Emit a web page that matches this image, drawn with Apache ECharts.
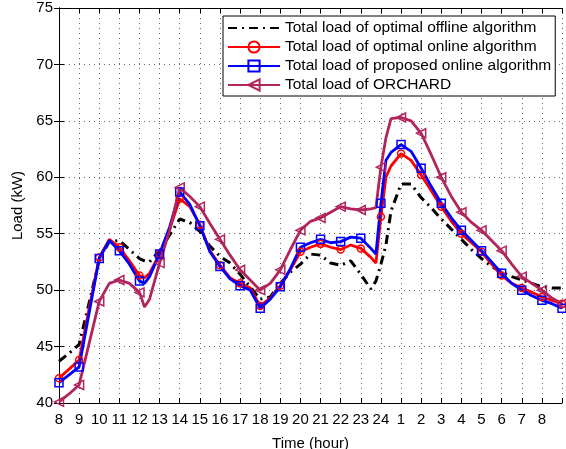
<!DOCTYPE html>
<html>
<head>
<meta charset="utf-8">
<script src="https://cdn.jsdelivr.net/npm/echarts@6/dist/echarts.min.js"></script>
<style>
  html, body { margin: 0; padding: 0; background: #fff; }
  #main { width: 566px; height: 449px; }
</style>
</head>
<body>
<div id="main"></div>
<script>
// hours after 8:00
var times = [0, 0.5, 1, 1.5, 2, 2.5, 3, 3.5, 4, 4.25, 4.5, 5, 5.5, 6, 6.5, 7, 7.5, 8, 8.5, 9, 9.5, 10, 10.5, 11, 11.5,
  12, 12.5, 13, 13.5, 14, 14.5, 15, 15.5, 15.75, 16, 16.25, 16.5, 17, 17.5, 18, 18.5, 19, 19.5, 20, 20.5, 21, 21.5,
  22, 22.5, 23, 23.5, 24, 24.5, 25]
var hourLabels = ['8', '9', '10', '11', '12', '13', '14', '15', '16', '17', '18', '19', '20', '21', '22', '23', '24',
  '1', '2', '3', '4', '5', '6', '7', '8']

var offlineLoad = [43.7, 44.4, 45.2, 48.9, 52.7, 54.3, 54.4, 53.6, 52.8, 52.6, 52.5, 53.5, 54.9, 56.3, 56.0, 55.2, 53.9,
  53.0, 52.4, 51.4, 50.3, 49.2, 49.4, 50.6, 51.6, 52.3, 53.2, 53.1, 52.4, 52.2, 52.6, 51.4, 50.1, 50.8, 52.3, 54.0,
  57.0, 59.4, 59.4, 58.2, 57.3, 56.3, 55.4, 54.5, 53.6, 52.8, 52.1, 51.6, 51.2, 50.9, 50.6, 50.3, 50.2, 50.2]
var onlineLoad = [42.2, 43.0, 43.8, 48.4, 52.9, 54.5, 53.8, 52.6, 51.3, 51.1, 51.5, 53.2, 55.4, 58.1, 57.4, 55.8, 53.5,
  52.2, 51.1, 50.6, 50.2, 48.6, 49.3, 50.4, 51.8, 53.4, 53.8, 54.1, 53.8, 53.6, 54.0, 53.7, 52.9, 52.4, 56.5, 60.0,
  61.0, 62.1, 61.5, 60.2, 58.8, 57.4, 56.1, 55.0, 54.2, 53.4, 52.3, 51.3, 50.6, 50.2, 49.8, 49.4, 49.1, 48.8]
var proposedLoad = [41.8, 42.5, 43.2, 48.0, 52.8, 54.4, 53.5, 52.3, 50.8, 50.6, 51.2, 53.2, 55.6, 58.7, 57.6, 55.7, 53.4,
  52.1, 51.0, 50.4, 50.0, 48.4, 49.2, 50.3, 51.9, 53.8, 54.2, 54.5, 54.2, 54.3, 54.7, 54.6, 53.7, 53.2, 57.7, 61.5,
  62.2, 62.9, 62.3, 60.8, 59.2, 57.7, 56.4, 55.3, 54.4, 53.5, 52.5, 51.5, 50.6, 50.0, 49.5, 49.1, 48.8, 48.4]
var orchardLoad = [40.1, 40.8, 41.6, 45.3, 49.0, 50.6, 50.9, 50.6, 49.8, 48.5, 49.2, 52.4, 55.3, 59.1, 58.3, 57.4, 55.9,
  54.5, 53.1, 51.8, 50.9, 50.0, 50.6, 51.8, 53.6, 55.3, 56.1, 56.4, 56.9, 57.4, 57.2, 57.1, 57.2, 57.3, 60.9, 63.5,
  65.2, 65.3, 65.0, 63.9, 62.0, 60.0, 58.3, 56.9, 56.0, 55.3, 54.4, 53.5, 52.3, 51.2, 50.6, 50.0, 49.3, 48.8]

var names = ['Total load of optimal offline algorithm', 'Total load of optimal online algorithm',
  'Total load of proposed online algorithm', 'Total load of ORCHARD']

var font = 'Liberation Sans, Arial, Helvetica, sans-serif'

// markers only on the whole hours
function build (vals, sym) {
  return times.map(function (t, i) {
    return { value: [t, vals[i]], symbol: Number.isInteger(t) ? sym : 'none' }
  })
}

function lineSeries (name, vals, color, sym, extra) {
  var s = {
    name: name,
    type: 'line',
    data: build(vals, sym),
    symbol: sym,
    symbolSize: 8,
    showAllSymbol: true,
    animation: false,
    lineStyle: { color: color, width: 2.8 },
    itemStyle: { color: 'rgba(255,255,255,0)', borderColor: color, borderWidth: 1.5 }
  }
  return Object.assign(s, extra || {})
}

var myChart = echarts.init(document.getElementById('main'))
myChart.setOption({
  backgroundColor: '#fff',
  textStyle: { fontFamily: font },
  grid: { left: 59, right: 4, top: 8, bottom: 46, outerBoundsMode: 'none' },
  legend: {
    orient: 'vertical',
    left: 223,
    top: 16,
    padding: [4, 4, 3, 4],
    itemGap: 3,
    itemWidth: 52,
    itemHeight: 14,
    backgroundColor: '#fff',
    borderColor: '#000',
    borderWidth: 1,
    textStyle: { fontSize: 15.5, lineHeight: 16, color: '#000', fontFamily: font },
    data: [
      { name: names[0], itemStyle: { opacity: 0 } },
      names[1], names[2], names[3]
    ]
  },
  xAxis: [{
    type: 'value',
    min: 0,
    max: 25,
    interval: 1,
    name: 'Time (hour)',
    nameLocation: 'middle',
    nameGap: 33,
    nameTextStyle: { fontSize: 15, color: '#000', fontFamily: font },
    axisLine: { lineStyle: { color: '#000', width: 1 } },
    axisTick: { inside: true, length: 5, lineStyle: { color: '#000' } },
    axisLabel: {
      fontSize: 15, color: '#000', margin: 9, fontFamily: font,
      formatter: function (v) { return hourLabels[v] || '' }
    },
    splitLine: { show: true, lineStyle: { color: '#666', type: [1, 4], width: 1 } }
  }, {
    type: 'value',
    position: 'top',
    min: 0,
    max: 25,
    interval: 1,
    axisLine: { lineStyle: { color: '#000', width: 1 } },
    axisTick: { inside: true, length: 5, lineStyle: { color: '#000' } },
    axisLabel: { show: false },
    splitLine: { show: false }
  }],
  yAxis: [{
    type: 'value',
    min: 40,
    max: 75,
    interval: 5,
    name: 'Load (kW)',
    nameLocation: 'middle',
    nameGap: 31,
    nameTextStyle: { fontSize: 15, color: '#000', fontFamily: font },
    axisLine: { show: true, lineStyle: { color: '#000', width: 1 } },
    axisTick: { show: true, inside: true, length: 5, lineStyle: { color: '#000' } },
    axisLabel: { fontSize: 15, color: '#000', margin: 6, fontFamily: font },
    splitLine: { show: true, lineStyle: { color: '#666', type: [1, 4], width: 1 } }
  }, {
    type: 'value',
    position: 'right',
    min: 40,
    max: 75,
    interval: 5,
    axisLine: { show: true, lineStyle: { color: '#000', width: 1 } },
    axisTick: { show: true, inside: true, length: 5, lineStyle: { color: '#000' } },
    axisLabel: { show: false },
    splitLine: { show: false }
  }],
  series: [
    lineSeries(names[0], offlineLoad, '#000', 'none', {
      lineStyle: { color: '#000', width: 3, type: [9, 5, 2, 5] }
    }),
    lineSeries(names[1], onlineLoad, '#ff0000', 'circle', { symbolSize: 7 }),
    lineSeries(names[2], proposedLoad, '#0000ff', 'rect', { symbolSize: 8 }),
    lineSeries(names[3], orchardLoad, '#b1245c', 'triangle', { symbolSize: 9, symbolRotate: 90 })
  ]
})
</script>
</body>
</html>
